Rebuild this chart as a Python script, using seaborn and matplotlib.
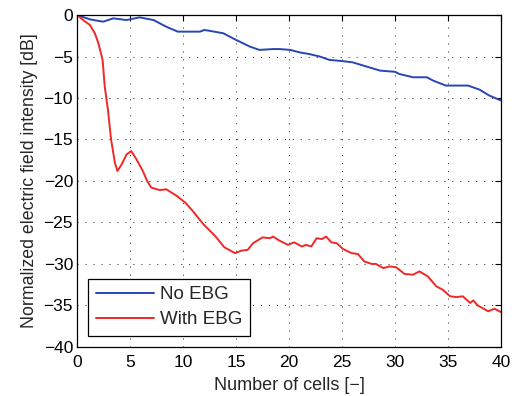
import numpy as np
import pandas as pd
import seaborn as sns
import matplotlib
matplotlib.use("Agg")
import matplotlib.pyplot as plt

no_ebg_x = [0, 1.2, 2.45, 3.4, 4.66, 5.9, 7.2, 8.4, 9.5, 11.6, 12.0, 12.5, 13.8, 15.0,
            16.3, 17.2, 18.5, 19.1, 20.1, 21.0, 21.9, 22.9, 23.8, 25.1, 26.0, 27.3,
            28.6, 30.0, 30.4, 31.7, 33.0, 33.6, 34.8, 36.9, 38.0, 38.9, 40.0]
no_ebg_y = [0, -0.52, -0.8, -0.4, -0.6, -0.28, -0.6, -1.4, -2.0, -2.0, -1.8, -1.9, -2.2,
            -3.0, -3.8, -4.2, -4.1, -4.1, -4.2, -4.5, -4.7, -5.0, -5.4, -5.56, -5.7,
            -6.2, -6.7, -6.84, -7.1, -7.5, -7.5, -7.9, -8.5, -8.5, -9.0, -9.7, -10.3]

ebg_x = [0, 0.57, 1.2, 1.67, 2.0, 2.4, 2.6, 2.9, 3.2, 3.56, 3.8, 4.2, 4.66, 5.1, 5.6,
         6.2, 6.6, 7.0, 7.8, 8.4, 9.4, 10.2, 10.9, 11.9, 13.0, 13.9, 14.9, 15.5, 16.1,
         16.6, 17.5, 18.2, 18.5, 19.1, 19.9, 20.5, 21.2, 21.6, 22.1, 22.6, 23.1, 23.5,
         24.0, 24.5, 25.1, 25.9, 26.5, 27.1, 27.8, 28.2, 28.9, 29.5, 30.1, 30.9, 31.7,
         32.3, 33.1, 33.9, 34.5, 35.2, 35.8, 36.4, 37.1, 37.4, 37.8, 38.8, 39.4, 40.0]
ebg_y = [0, -0.6, -1.2, -2.2, -3.4, -5.4, -8.6, -11.4, -15.0, -17.8, -18.8, -18.0, -16.8,
         -16.4, -17.4, -18.8, -20.0, -20.8, -21.1, -21.0, -21.8, -22.6, -23.6, -25.2,
         -26.6, -28.0, -28.7, -28.4, -28.3, -27.5, -26.8, -26.9, -26.7, -27.2, -27.7,
         -27.4, -27.9, -27.7, -27.9, -26.9, -27.0, -26.7, -27.4, -27.5, -28.2, -28.7,
         -28.8, -29.7, -30.0, -30.0, -30.5, -30.3, -30.4, -31.2, -31.3, -30.9, -31.5,
         -32.7, -33.1, -33.9, -34.0, -33.9, -34.7, -34.4, -35.0, -35.7, -35.4, -35.8]

x_ticks = [0, 5, 10, 15, 20, 25, 30, 35, 40]
y_ticks = [0, -5, -10, -15, -20, -25, -30, -35, -40]

df = pd.concat([
    pd.DataFrame({"x": no_ebg_x, "y": no_ebg_y, "series": "No EBG"}),
    pd.DataFrame({"x": ebg_x, "y": ebg_y, "series": "With EBG"}),
], ignore_index=True)

sns.set_theme(style="white")
plt.rcParams['font.family'] = ['Liberation Sans', 'DejaVu Sans']
plt.rcParams['xtick.direction'] = 'in'
plt.rcParams['ytick.direction'] = 'in'

fig = plt.figure(figsize=(5.18, 3.96), dpi=100)
ax = fig.add_axes([0.149, 0.124, 0.818, 0.838])

sns.lineplot(data=df, x="x", y="y", hue="series",
             palette={"No EBG": "#2846B4", "With EBG": "#F02828"},
             linewidth=1.4, ax=ax, sort=False, estimator=None)

ax.set_xlim(0, 40)
ax.set_ylim(-40, 0)
ax.set_xticks(x_ticks)
ax.set_yticks(y_ticks)
ax.tick_params(axis='both', which='both', labelsize=12.5, colors='black',
               top=True, right=True, length=4, width=0.8)
ax.tick_params(axis='x', pad=6)
ax.tick_params(axis='y', pad=3)
ax.grid(True, linestyle=(0, (1.2, 7)), color='black', linewidth=0.7, alpha=0.75)
for s in ax.spines.values():
    s.set_color('black')
    s.set_linewidth(0.9)
ax.set_xlabel("Number of cells [\u2212]", fontsize=13, labelpad=5)
ax.set_ylabel("Normalized electric field intensity [dB]", fontsize=12.8, labelpad=4)

leg = ax.legend(loc='lower left', bbox_to_anchor=(0.026, 0.033), fontsize=13.5,
                frameon=True, fancybox=False, edgecolor='black', framealpha=1,
                handlelength=3.1, handletextpad=0.35, borderpad=0.4,
                labelspacing=0.42, borderaxespad=0)
leg.get_frame().set_linewidth(0.9)

fig.savefig("out.png", dpi=100)
